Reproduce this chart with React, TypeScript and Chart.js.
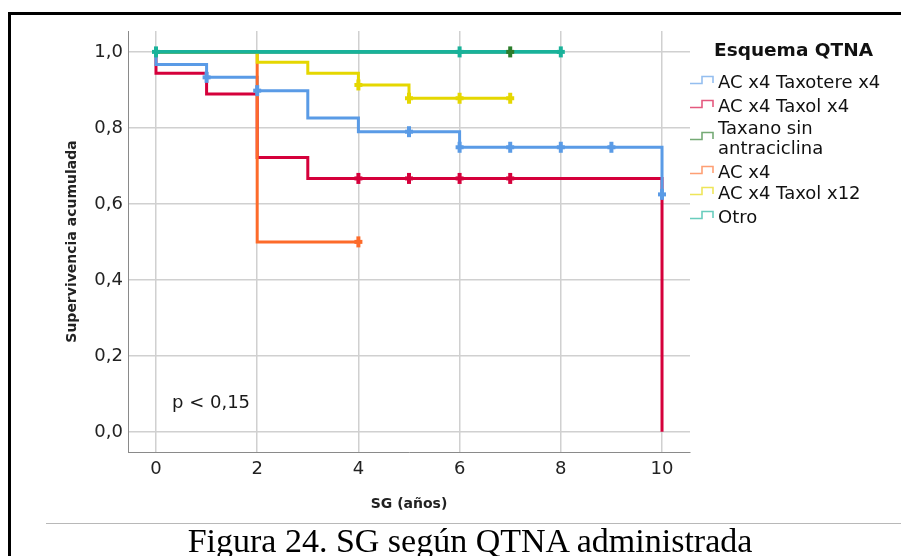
import React, { useEffect, useRef } from "react";
import { Chart, registerables } from "chart.js";

Chart.register(...registerables);

// Axis ticks
const xTicks = [0, 2, 4, 6, 8, 10];
const xTickLabels = ["0", "2", "4", "6", "8", "10"];
const yTicks = [0, 0.2, 0.4, 0.6, 0.8, 1.0];
const yTickLabels = ["0,0", "0,2", "0,4", "0,6", "0,8", "1,0"];

// Kaplan-Meier curves: event times, survival after each step, censored times
const taxotereTimes = [0, 0, 1, 2, 3, 4, 6, 10];
const taxotereSurv = [1, 0.967, 0.933, 0.898, 0.826, 0.79, 0.749, 0.625];
const taxotereCensored = [1, 2, 5, 6, 7, 8, 9, 10];

const taxol4Times = [0, 0, 1, 2, 3, 10];
const taxol4Surv = [1, 0.944, 0.889, 0.722, 0.667, 0];
const taxol4Censored = [4, 5, 6, 7];

const taxanoTimes = [0, 7];
const taxanoSurv = [1, 1];
const taxanoCensored = [7];

const ac4Times = [0, 2, 4];
const ac4Surv = [1, 0.5, 0.5];
const ac4Censored = [4];

const taxol12Times = [0, 2, 3, 4, 5, 7];
const taxol12Surv = [1, 0.973, 0.944, 0.913, 0.878, 0.878];
const taxol12Censored = [4, 5, 6, 7];

const otroTimes = [0, 8];
const otroSurv = [1, 1];
const otroCensored = [0, 6, 8];

type Series = {
  label: string[];
  color: string;
  times: number[];
  surv: number[];
  censored: number[];
  order: number;
  width: number;
};

const series: Series[] = [
  { label: ["AC x4 Taxotere x4"], color: "#5a9be6", times: taxotereTimes, surv: taxotereSurv, censored: taxotereCensored, order: 4, width: 3 },
  { label: ["AC x4 Taxol x4"], color: "#d5003b", times: taxol4Times, surv: taxol4Surv, censored: taxol4Censored, order: 5, width: 3 },
  { label: ["Taxano sin", "antraciclina"], color: "#2b7d2b", times: taxanoTimes, surv: taxanoSurv, censored: taxanoCensored, order: 6, width: 3 },
  { label: ["AC x4"], color: "#fd6b2a", times: ac4Times, surv: ac4Surv, censored: ac4Censored, order: 3, width: 3 },
  { label: ["AC x4 Taxol x12"], color: "#e5d700", times: taxol12Times, surv: taxol12Surv, censored: taxol12Censored, order: 2, width: 3 },
  { label: ["Otro"], color: "#19b29a", times: otroTimes, surv: otroSurv, censored: otroCensored, order: 1, width: 3.6 },
];

// survival value of a step curve at time t
function survAt(s: Series, t: number): number {
  let v = s.surv[0];
  for (let i = 0; i < s.times.length; i++) {
    if (s.times[i] <= t) v = s.surv[i];
  }
  return v;
}

const FONT = "'DejaVu Sans', 'Noto Sans', sans-serif";
const legendTops = [72, 96, 118, 162, 183, 207];

export default function App() {
  const canvasRef = useRef<HTMLCanvasElement | null>(null);

  useEffect(() => {
    if (!canvasRef.current) return;
    const datasets: any[] = [];
    series.forEach((s) => {
      datasets.push({
        type: "line",
        data: s.times.map((t, i) => ({ x: t, y: s.surv[i] })),
        stepped: true,
        borderColor: s.color,
        borderWidth: s.width,
        pointRadius: 0,
        fill: false,
        order: s.order,
      });
    });
    // censor ticks: a vertical bar plus a short horizontal bar
    series.forEach((s) => {
      const pts = s.censored.map((t) => ({ x: t, y: survAt(s, t) }));
      datasets.push({
        type: "line",
        data: pts,
        showLine: false,
        borderColor: s.color,
        pointStyle: "line",
        pointRotation: 90,
        pointRadius: 5.5,
        pointBorderWidth: 4,
        pointBorderColor: s.color,
        pointBackgroundColor: s.color,
        order: 0,
      });
      datasets.push({
        type: "line",
        data: pts,
        showLine: false,
        borderColor: s.color,
        pointStyle: "line",
        pointRotation: 0,
        pointRadius: 4,
        pointBorderWidth: 4,
        pointBorderColor: s.color,
        pointBackgroundColor: s.color,
        order: 0,
      });
    });

    const chart = new Chart(canvasRef.current, {
      type: "line",
      data: { datasets },
      options: {
        animation: false,
        responsive: false,
        events: [],
        layout: { padding: { left: 0, right: 211, top: 31, bottom: 0 } },
        plugins: {
          legend: { display: false },
          tooltip: { enabled: false },
          title: { display: false },
        },
        scales: {
          x: {
            type: "linear",
            min: -0.553,
            max: 10.553,
            afterBuildTicks: (scale: any) => {
              scale.ticks = xTicks.map((v) => ({ value: v }));
            },
            afterFit: (scale: any) => {
              scale.height = 104;
            },
            ticks: {
              callback: (_v: any, i: number) => xTickLabels[i],
              font: { family: FONT, size: 18 },
              color: "#222",
              padding: 7,
              maxRotation: 0,
              autoSkip: false,
            },
            grid: { color: "#d0d0d0", lineWidth: 1.5, drawTicks: false },
            border: { display: true, color: "#8a8a8a", width: 1 },
            title: {
              display: true,
              text: "SG (años)",
              font: { family: FONT, size: 14, weight: "bold" },
              color: "#222",
              padding: { top: 0, bottom: 43 },
            },
          },
          y: {
            type: "linear",
            min: -0.053,
            max: 1.055,
            afterBuildTicks: (scale: any) => {
              scale.ticks = yTicks.map((v) => ({ value: v }));
            },
            afterFit: (scale: any) => {
              scale.width = 128;
            },
            ticks: {
              callback: (_v: any, i: number) => yTickLabels[i],
              font: { family: FONT, size: 18 },
              color: "#222",
              padding: 5,
              autoSkip: false,
            },
            grid: { color: "#d0d0d0", lineWidth: 1.5, drawTicks: false },
            border: { display: true, color: "#8a8a8a", width: 1 },
            title: {
              display: true,
              text: "Supervivencia acumulada",
              font: { family: FONT, size: 14, weight: "bold" },
              color: "#222",
              padding: { top: 63.6, bottom: 0 },
            },
          },
        },
      } as any,
    });
    return () => chart.destroy();
  }, []);

  return (
    <div
      style={{
        position: "absolute",
        left: 0,
        top: 0,
        width: 901,
        height: 556,
        overflow: "hidden",
        background: "#fff",
      }}
    >
      <canvas ref={canvasRef} width={901} height={556} style={{ display: "block", position: "absolute", left: 0, top: 0 }} />

      {/* frame */}
      <div
        style={{
          position: "absolute",
          left: 8,
          top: 12,
          width: 901,
          height: 556,
          borderTop: "3px solid #000",
          borderLeft: "3px solid #000",
          pointerEvents: "none",
        }}
      />

      {/* p value */}
      <div style={{ position: "absolute", left: 172, top: 391, font: `18px ${FONT}`, lineHeight: "22px", color: "#1a1a1a", whiteSpace: "nowrap" }}>
        p &lt; 0,15
      </div>

      {/* legend */}
      <div style={{ position: "absolute", left: 714, top: 39, font: `bold 18.5px ${FONT}`, lineHeight: "22px", color: "#111", whiteSpace: "nowrap" }}>
        Esquema QTNA
      </div>
      {series.map((s, i) => (
        <div
          key={i}
          style={{
            position: "absolute",
            left: 690,
            top: legendTops[i],
            display: "flex",
            alignItems: "center",
          }}
        >
          <svg width={24} height={20} style={{ flex: "none" }}>
            <path d="M0,11.5 H12 V4.5 H23 V11" fill="none" stroke={s.color} strokeOpacity={0.65} strokeWidth={1.6} />
          </svg>
          <div style={{ marginLeft: 4, font: `18px ${FONT}`, lineHeight: "20px", color: "#111", whiteSpace: "nowrap" }}>
            {s.label.map((l, j) => (
              <div key={j}>{l}</div>
            ))}
          </div>
        </div>
      ))}

      {/* caption */}
      <div style={{ position: "absolute", left: 46, top: 523, width: 855, height: 1, background: "#b8b8b8" }} />
      <div
        style={{
          position: "absolute",
          left: 0,
          top: 524,
          width: 940,
          textAlign: "center",
          font: "34px 'Liberation Serif', 'DejaVu Serif', serif",
          lineHeight: "34px",
          color: "#000",
          whiteSpace: "nowrap",
        }}
      >
        Figura 24. SG según QTNA administrada
      </div>
    </div>
  );
}
